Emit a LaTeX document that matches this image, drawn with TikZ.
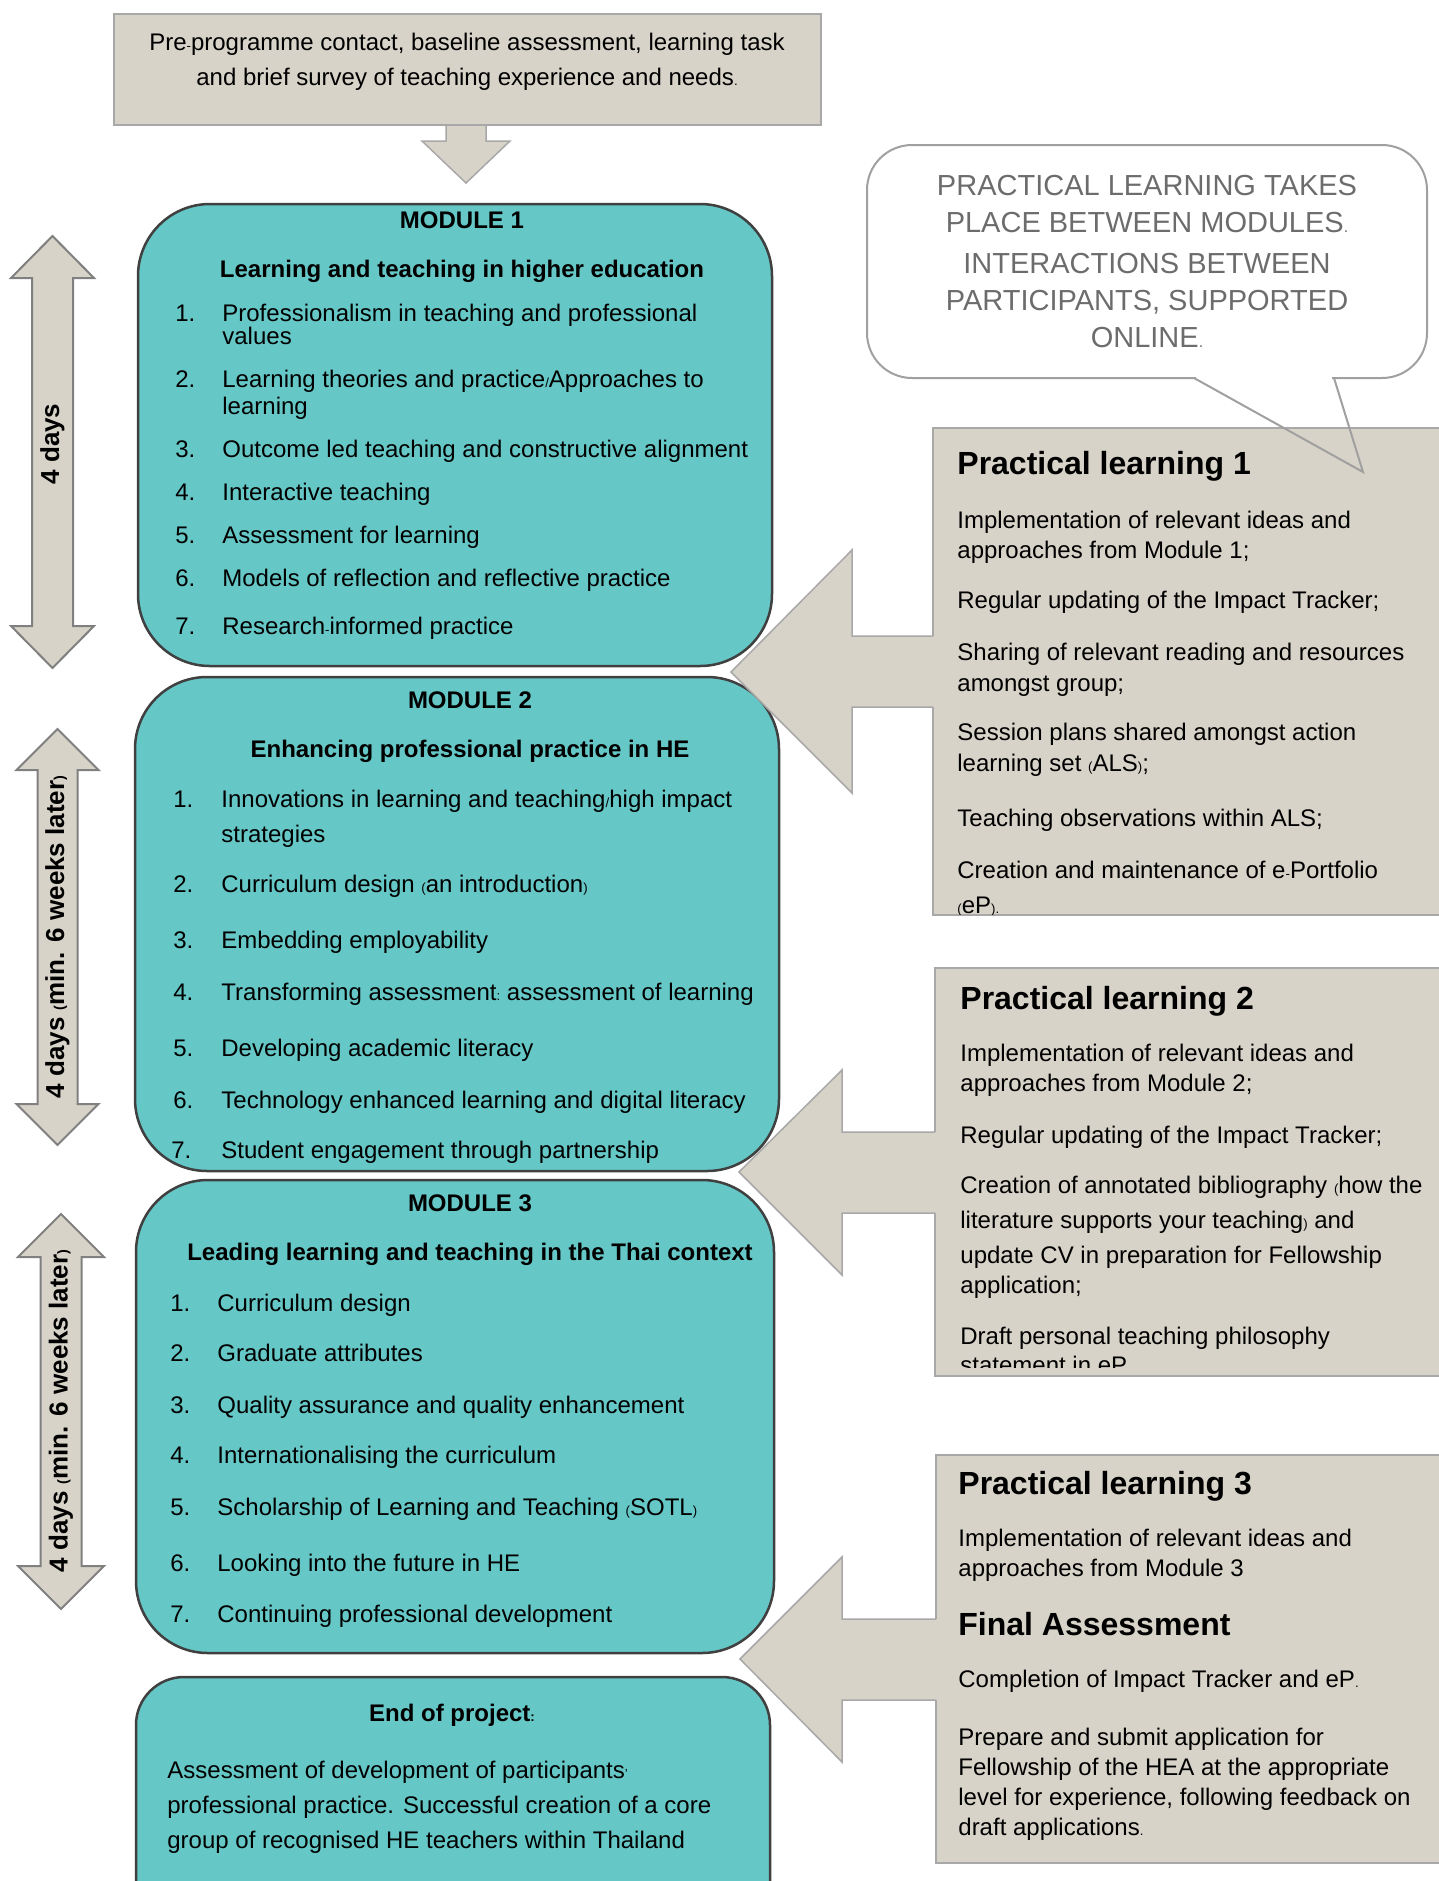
\documentclass[tikz,border=0pt]{standalone}
\usepackage{fontspec}
\setmainfont{Liberation Sans}
\definecolor{beige}{RGB}{216,211,200}
\definecolor{modfill}{RGB}{102,199,199}
\definecolor{modline}{RGB}{64,64,64}
\definecolor{bline}{RGB}{168,168,168}
\definecolor{arrline}{RGB}{128,128,128}
\definecolor{bubline}{RGB}{160,160,160}
\definecolor{bubtext}{RGB}{108,108,108}
\newcommand\pn[1]{\scalebox{0.55}{#1}}
\newcommand\numitem[6]{\node[txt] (#1n) at (#2,#4) {#5}; \node[txt] (#1) at (#3,#4) {#6};}
\newcommand\txtline[4]{\node[txt] (#1) at (#2,#3) {#4};}
\begin{document}
\begin{tikzpicture}[x=0.5pt,y=-0.5pt,
  txt/.style={anchor=base west, inner sep=0pt, font=\fontsize{12}{14}\selectfont},
  ctxt/.style={anchor=base, inner sep=0pt, font=\fontsize{12}{14}\selectfont},
  bhead/.style={anchor=base, inner sep=0pt, font=\bfseries\fontsize{12}{14}\selectfont},
  pltitle/.style={anchor=base west, inner sep=0pt, font=\bfseries\fontsize{16}{19}\selectfont},
  bub/.style={anchor=base, inner sep=0pt, font=\fontsize{14.5}{17}\selectfont, text=bubtext},
  vlab/.style={rotate=90, inner sep=0pt, font=\bfseries\fontsize{13}{15}\selectfont},
  beigebox/.style={fill=beige, draw=bline, line width=0.75pt},
  modbox/.style={fill=modfill, draw=modline, line width=1.25pt, rounded corners=36pt},
  dblarrow/.style={fill=beige, draw=arrline, line width=1pt, line join=miter},
  blockarrow/.style={draw=bline, line width=0.75pt, line join=miter}
]
\useasboundingbox (0,0) rectangle (1439,1881);
\clip (0,0) rectangle (1439,1881);

% ---------- top box and down arrow ----------
\fill[beige] (446,124) -- (446,141) -- (422,141) -- (466,183) -- (510,141) -- (486,141) -- (486,124) -- cycle;
\draw[blockarrow] (446,125) -- (446,141) -- (422,141) -- (466,183) -- (510,141) -- (486,141) -- (486,125);
\draw[beigebox] (114,14) rectangle (821,125);
\node[ctxt] (top1) at (467,50.5) {Pre\pn{-}programme contact, baseline assessment, learning task};
\node[ctxt] (top2) at (467,85) {and brief survey of teaching experience and needs\pn{.}};

% ---------- left double arrows ----------
\draw[dblarrow] (52.5,236) -- (94,278) -- (73,278) -- (73,626) -- (94,626) -- (52.5,668) -- (11,626) -- (32,626) -- (32,278) -- (11,278) -- cycle;
\node[vlab] (lab1) at (52.5,444) {4 days};
\draw[dblarrow] (57.5,729) -- (98.5,770) -- (77.5,770) -- (77.5,1104) -- (98.5,1104) -- (57.5,1145) -- (16.5,1104) -- (37.5,1104) -- (37.5,770) -- (16.5,770) -- cycle;
\node[vlab] (lab2) at (57.5,937) {4 days \pn{(}min. 6 weeks later\pn{)}};
\draw[dblarrow] (61,1214) -- (104,1257) -- (81.5,1257) -- (81.5,1566) -- (104,1566) -- (61,1609) -- (18,1566) -- (40.5,1566) -- (40.5,1257) -- (18,1257) -- cycle;
\node[vlab] (lab3) at (61,1411) {4 days \pn{(}min. 6 weeks later\pn{)}};

% ---------- module 1 ----------
\draw[modbox] (138,204) rectangle (772,666);
\node[bhead] (m1t) at (462,228) {MODULE 1};
\node[bhead] (m1h) at (462,277) {Learning and teaching in higher education};
\numitem{m1a}{175}{222}{321.5}{1.}{Professionalism in teaching and professional}
\txtline{m1a2}{222}{344}{values}
\numitem{m1b}{175}{222}{387.5}{2.}{Learning theories and practice\pn{/}Approaches to}
\txtline{m1b2}{222}{414}{learning}
\numitem{m1c}{175}{222}{457}{3.}{Outcome led teaching and constructive alignment}
\numitem{m1d}{175}{222}{500}{4.}{Interactive teaching}
\numitem{m1e}{175}{222}{543}{5.}{Assessment for learning}
\numitem{m1f}{175}{222}{586.5}{6.}{Models of reflection and reflective practice}
\numitem{m1g}{175}{222}{634.5}{7.}{Research\pn{-}informed practice}

% ---------- module 2 ----------
\draw[modbox] (135,677) rectangle (779,1171);
\node[bhead] (m2t) at (470,708) {MODULE 2};
\node[bhead] (m2h) at (470,757) {Enhancing professional practice in HE};
\numitem{m2a}{173}{221}{807}{1.}{Innovations in learning and teaching\pn{/}high impact}
\txtline{m2a2}{221}{842}{strategies}
\numitem{m2b}{173}{221}{892}{2.}{Curriculum design \pn{(}an introduction\pn{)}}
\numitem{m2c}{173}{221}{948}{3.}{Embedding employability}
\numitem{m2d}{173}{221}{1000}{4.}{Transforming assessment\pn{:} assessment of learning}
\numitem{m2e}{173}{221}{1056.5}{5.}{Developing academic literacy}
\numitem{m2f}{173}{221}{1108}{6.}{Technology enhanced learning and digital literacy}
\numitem{m2g}{171}{221}{1158.5}{7.}{Student engagement through partnership}

% ---------- module 3 ----------
\draw[modbox] (136,1180) rectangle (774,1653);
\node[bhead] (m3t) at (470,1211) {MODULE 3};
\node[bhead] (m3h) at (470,1260.5) {Leading learning and teaching in the Thai context};
\numitem{m3a}{170}{217}{1311}{1.}{Curriculum design}
\numitem{m3b}{170}{217}{1361}{2.}{Graduate attributes}
\numitem{m3c}{170}{217}{1413}{3.}{Quality assurance and quality enhancement}
\numitem{m3d}{170}{217}{1463}{4.}{Internationalising the curriculum}
\numitem{m3e}{170}{217}{1515}{5.}{Scholarship of Learning and Teaching \pn{(}SOTL\pn{)}}
\numitem{m3f}{170}{217}{1571}{6.}{Looking into the future in HE}
\numitem{m3g}{170}{217}{1622.5}{7.}{Continuing professional development}

% ---------- end of project ----------
\draw[modbox, rounded corners=24pt] (136,1677) rectangle (770,1960);
\node[bhead] (endt) at (452,1721) {End of project\pn{:}};
\txtline{end1}{167}{1778.5}{Assessment of development of participants\pn{'}}
\txtline{end2}{167}{1813}{professional practice. Successful creation of a core}
\txtline{end3}{167}{1848}{group of recognised HE teachers within Thailand}

% ---------- practical learning 1 ----------
\draw[beigebox] (933,428) rectangle (1460,915);
\begin{scope}
\clip (933,428) rectangle (1439,914);
\node[pltitle] (p1t) at (957,474) {Practical learning 1};
\txtline{p1a}{957}{528}{Implementation of relevant ideas and}
\txtline{p1b}{957}{558}{approaches from Module 1;}
\txtline{p1c}{957}{608}{Regular updating of the Impact Tracker;}
\txtline{p1d}{957}{660}{Sharing of relevant reading and resources}
\txtline{p1e}{957}{691}{amongst group;}
\txtline{p1f}{957}{740}{Session plans shared amongst action}
\txtline{p1g}{957}{771}{learning set \pn{(}ALS\pn{)};}
\txtline{p1h}{957}{826}{Teaching observations within ALS;}
\txtline{p1i}{957}{878}{Creation and maintenance of e\pn{-}Portfolio}
\txtline{p1j}{957}{913}{\pn{(}eP\pn{).}}
\end{scope}

% ---------- practical learning 2 ----------
\draw[beigebox] (935,968) rectangle (1460,1376);
\begin{scope}
\clip (935,968) rectangle (1439,1367);
\node[pltitle] (p2t) at (960,1009) {Practical learning 2};
\txtline{p2a}{960}{1061}{Implementation of relevant ideas and}
\txtline{p2b}{960}{1091}{approaches from Module 2;}
\txtline{p2c}{960}{1143}{Regular updating of the Impact Tracker;}
\txtline{p2d}{960}{1193}{Creation of annotated bibliography \pn{(}how the}
\txtline{p2e}{960}{1228}{literature supports your teaching\pn{)} and}
\txtline{p2f}{960}{1263}{update CV in preparation for Fellowship}
\txtline{p2g}{960}{1293}{application;}
\txtline{p2h}{960}{1344}{Draft personal teaching philosophy}
\txtline{p2i}{960}{1373}{statement in eP}
\end{scope}

% ---------- practical learning 3 ----------
\draw[beigebox] (936,1455) rectangle (1460,1863);
\node[pltitle] (p3t) at (958,1494) {Practical learning 3};
\txtline{p3a}{958}{1546}{Implementation of relevant ideas and}
\txtline{p3b}{958}{1576}{approaches from Module 3}
\node[pltitle] (p3f) at (958,1635) {Final Assessment};
\txtline{p3c}{958}{1687}{Completion of Impact Tracker and eP\pn{.}}
\txtline{p3d}{958}{1745}{Prepare and submit application for}
\txtline{p3e}{958}{1775}{Fellowship of the HEA at the appropriate}
\txtline{p3g}{958}{1805}{level for experience, following feedback on}
\txtline{p3h}{958}{1835}{draft applications\pn{.}}

% ---------- block arrows from practical learning to modules ----------
\fill[beige] (936,636) -- (852,636) -- (852,550) -- (731,672) -- (852,793) -- (852,707) -- (936,707) -- cycle;
\draw[blockarrow] (933,636) -- (852,636) -- (852,550) -- (731,672) -- (852,793) -- (852,707) -- (933,707);
\fill[beige] (938,1132) -- (842,1132) -- (842,1070) -- (739,1172) -- (842,1275) -- (842,1213) -- (938,1213) -- cycle;
\draw[blockarrow] (935,1132) -- (842,1132) -- (842,1070) -- (739,1172) -- (842,1275) -- (842,1213) -- (935,1213);
\fill[beige] (939,1619) -- (842,1619) -- (842,1557) -- (740,1659) -- (842,1762) -- (842,1700) -- (939,1700) -- cycle;
\draw[blockarrow] (936,1619) -- (842,1619) -- (842,1557) -- (740,1659) -- (842,1762) -- (842,1700) -- (936,1700);

% ---------- speech bubble ----------
\draw[bubline, line width=1pt, rounded corners=22.5pt] (867,145) rectangle (1427,378);
\draw[white, line width=2pt] (1196,378) -- (1332,378);
\draw[bubline, line width=1pt, line join=miter] (1194,378) -- (1363,472) -- (1334,378);
\node[bub] (b1) at (1147,195) {PRACTICAL LEARNING TAKES};
\node[bub] (b2) at (1147,232) {PLACE BETWEEN MODULES\pn{.}};
\node[bub] (b3) at (1147,273) {INTERACTIONS BETWEEN};
\node[bub] (b4) at (1147,310) {PARTICIPANTS, SUPPORTED};
\node[bub] (b5) at (1147,347) {ONLINE\pn{.}};
\end{tikzpicture}
\end{document}
